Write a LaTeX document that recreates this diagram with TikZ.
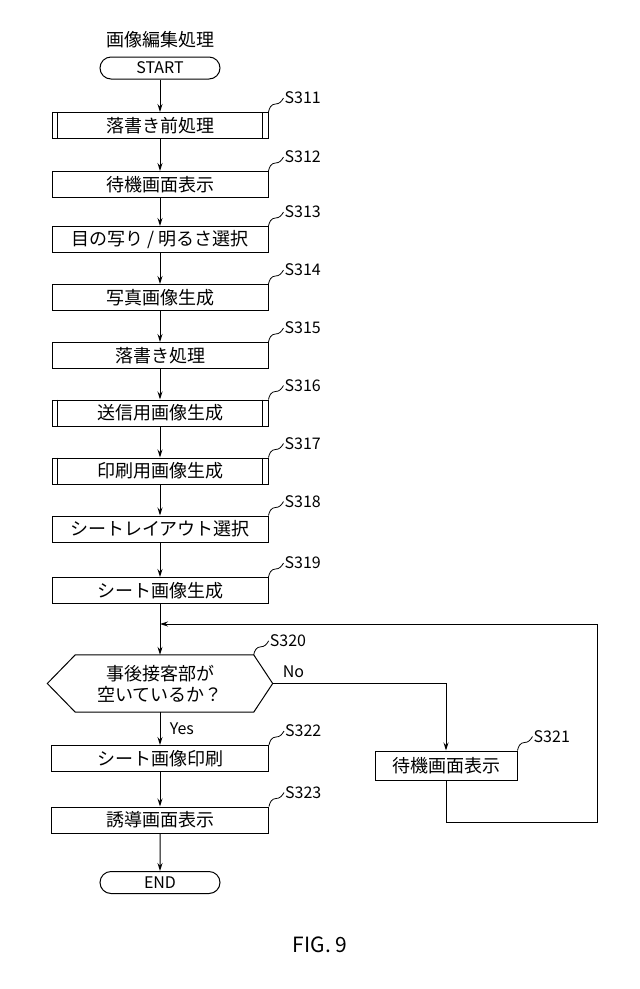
\documentclass[tikz,border=0pt]{standalone}
\usepackage{fontspec}
\setmainfont{Noto Sans CJK JP}
\usetikzlibrary{arrows.meta,shapes.misc}
\begin{document}
\begin{tikzpicture}[x=1pt,y=-1pt,
  box/.style={draw,line width=1pt,minimum width=216pt,minimum height=26pt,inner sep=0pt,font=\fontsize{18}{19}\selectfont},
  term/.style={draw,line width=1pt,rounded rectangle,minimum width=120pt,minimum height=22pt,inner sep=0pt,font=\fontsize{16}{17}\selectfont},
  lab/.style={anchor=west,font=\fontsize{16}{17}\selectfont,inner sep=1pt},
  arr/.style={line width=1pt,-{Stealth[length=8pt,width=5pt]}},
  ln/.style={line width=1pt}]
\useasboundingbox (0,0) rectangle (640,989);
\node[font=\fontsize{18}{19}\selectfont] (title) at (160,40) {画像編集処理};
\node[term] (start) at (160,68) {START};
\def\sq#1#2{\draw[line width=0.8pt] (#1.north east) to[out=80,in=180] ++(7,-8) to[out=0,in=240] ++(8,-6) coordinate (#1s); \node[lab] at (#1s) {#2};}
\node[box] (s311) at (160,125.5) {落書き前処理};
\node[box] (s312) at (160,184.5) {待機画面表示};
\node[box] (s313) at (160,239.5) {目の写り / 明るさ選択};
\node[box] (s314) at (160,297.5) {写真画像生成};
\node[box] (s315) at (160,355.5) {落書き処理};
\node[box] (s316) at (160,413) {送信用画像生成};
\node[box] (s317) at (160,471) {印刷用画像生成};
\node[box] (s318) at (160,529) {シートレイアウト選択};
\node[box] (s319) at (160,590.5) {シート画像生成};
\foreach \n in {s311,s316,s317}{
  \draw[ln] ([xshift=6pt]\n.north west) -- ([xshift=6pt]\n.south west);
  \draw[ln] ([xshift=-6pt]\n.north east) -- ([xshift=-6pt]\n.south east);}
\sq{s311}{S311}\sq{s312}{S312}\sq{s313}{S313}\sq{s314}{S314}\sq{s315}{S315}
\sq{s316}{S316}\sq{s317}{S317}\sq{s318}{S318}\sq{s319}{S319}
\node[minimum width=225pt,minimum height=57pt,inner sep=0pt,align=center,font=\fontsize{18}{21}\selectfont] (s320) at (160,683.5) {事後接客部が\\空いているか？};
\draw[ln] (s320.west) -- ([xshift=28pt]s320.north west) -- ([xshift=-19pt]s320.north east) coordinate (s320c) -- (s320.east) -- ([xshift=-19pt]s320.south east) -- ([xshift=28pt]s320.south west) -- cycle;
\draw[line width=0.8pt] (s320c) to[out=80,in=180] ++(7,-8) to[out=0,in=240] ++(8,-6) coordinate (s320s);
\node[lab] at (s320s) {S320};
\node[box,minimum width=217pt] (s322) at (160,758.5) {シート画像印刷};
\node[box,minimum width=217pt] (s323) at (160,820) {誘導画面表示};
\sq{s322}{S322}\sq{s323}{S323}
\node[term] (end) at (160,882.5) {END};
\node[box,minimum width=142pt,minimum height=29pt] (s321) at (446,765.5) {待機画面表示};
\draw[line width=0.8pt] (s321.north east) to[out=80,in=180] ++(7,-8) to[out=0,in=240] ++(8,-6) coordinate (s321s);
\node[lab] at (s321s) {S321};
\draw[arr] (start) -- (s311);
\foreach \a/\b in {s311/s312,s312/s313,s313/s314,s314/s315,s315/s316,s316/s317,s317/s318,s318/s319,s319/s320,s322/s323,s323/end}
  \draw[arr] (\a) -- (\b);
\draw[arr] (s320) -- node[right=6pt,font=\fontsize{16}{17}\selectfont]{Yes} (s322);
\draw[arr] (s320.east) -- node[above,pos=0.12,font=\fontsize{16}{17}\selectfont,yshift=2pt]{No} (s320.east -| s321.north) -- (s321.north);
\coordinate (j) at (160,624);
\draw[arr] (s321.south) -- ++(0,42) -| (597,624) -- (j);
\node[font=\fontsize{21}{23}\selectfont] (fig) at (320,945) {FIG. 9};
\end{tikzpicture}
\end{document}
